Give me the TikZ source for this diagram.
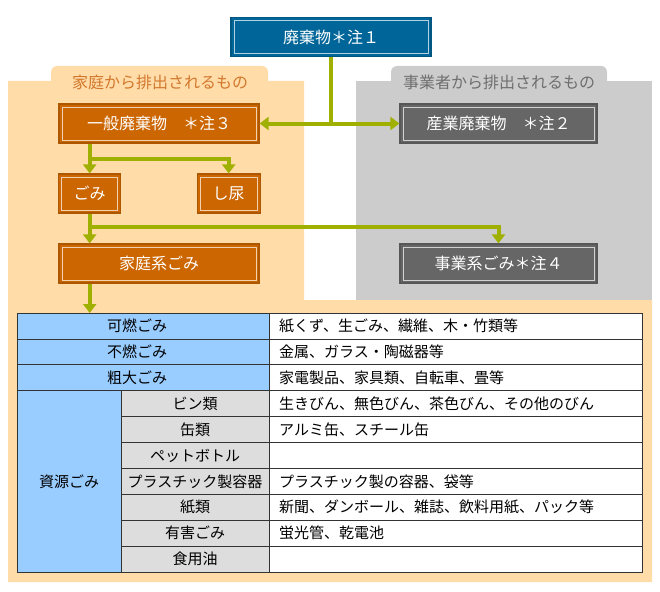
\documentclass[tikz,border=0pt]{standalone}
\usepackage{fontspec}
\setmainfont{Noto Sans CJK JP}
\usetikzlibrary{arrows.meta,calc}

\definecolor{bgorange}{HTML}{FFDCA8}
\definecolor{bggray}{HTML}{CCCCCC}
\definecolor{boxorange}{HTML}{CC6600}
\definecolor{boxblue}{HTML}{006699}
\definecolor{boxgray}{HTML}{666666}
\definecolor{cellblue}{HTML}{99CCFF}
\definecolor{cellgray}{HTML}{DDDDDD}
\definecolor{linkgreen}{HTML}{A0B000}
\definecolor{tabtext}{HTML}{D2782D}
\definecolor{tabgray}{HTML}{6E6E6E}

\begin{document}
\begin{tikzpicture}[x=1pt, y=-1pt,
    wbox/.style={fill=#1, draw=#1!85!black, line width=1.2pt, text=white,
      minimum height=39pt, inner sep=0pt, font=\fontsize{16}{18}\selectfont,
      path picture={\draw[white!70!#1, line width=0.8pt]
        ([shift={(3pt,3pt)}]path picture bounding box.south west) rectangle
        ([shift={(-3pt,-3pt)}]path picture bounding box.north east);}},
    link/.style={draw=linkgreen, line width=4pt},
    tip/.style={-{Triangle[width=13pt,length=9pt]}},
    tline/.style={draw=black!80, line width=0.8pt},
    cell/.style={font=\fontsize{15}{17}\selectfont, inner sep=0pt},
    tablbl/.style={font=\fontsize{16}{18}\selectfont, inner sep=0pt}]
  \useasboundingbox (0,0) rectangle (660,591);

  % backgrounds
  \fill[bgorange, rounded corners=6pt] (51,66) rectangle (268,95);
  \fill[bgorange] (8,81) -- (304,81) -- (304,300) -- (652,300) -- (652,582) -- (8,582) -- cycle;
  \fill[bggray, rounded corners=6pt] (391,66) rectangle (607,95);
  \fill[bggray] (356,81) rectangle (652,300);
  \node[tablbl, text=tabtext] (homelbl) at (160,82) {家庭から排出されるもの};
  \node[tablbl, text=tabgray] (bizlbl) at (499,82) {事業者から排出されるもの};

  % table
  \fill[cellblue] (17,313) rectangle (269,572);
  \fill[cellgray] (121,390.7) rectangle (269,572);
  \fill[white] (269,313) rectangle (642,572);
  \foreach \i in {1,...,3}
    \draw[tline] (17,313+\i*25.9) -- (642,313+\i*25.9);
  \foreach \i in {4,...,9}
    \draw[tline] (121,313+\i*25.9) -- (642,313+\i*25.9);
  \draw[tline] (269,313) -- (269,572);
  \draw[tline] (121,390.7) -- (121,572);
  \draw[tline] (17,313) rectangle (642,572);

  \foreach \a/\b [count=\i] in {可燃ごみ/紙くず、生ごみ、繊維、木・竹類等,
      不燃ごみ/金属、ガラス・陶磁器等,
      粗大ごみ/家電製品、家具類、自転車、畳等} {
    \node[cell] (kind\i) at (137,{313+(\i-0.5)*25.9}) {\a};
    \node[cell, anchor=west] (item\i) at (279,{313+(\i-0.5)*25.9}) {\b};
  }
  \foreach \a/\b [count=\i from 4] in {ビン類/生きびん、無色びん、茶色びん、その他のびん,
      缶類/アルミ缶、スチール缶,
      ペットボトル/,
      プラスチック製容器/プラスチック製の容器、袋等,
      紙類/新聞、ダンボール、雑誌、飲料用紙、パック等,
      有害ごみ/蛍光管、乾電池,
      食用油/} {
    \node[cell] (kind\i) at (195,{313+(\i-0.5)*25.9}) {\a};
    \node[cell, anchor=west] (item\i) at (279,{313+(\i-0.5)*25.9}) {\b};
  }
  \node[cell] (shigen) at (69,481.5) {資源ごみ};

  % boxes
  \node[wbox=boxblue, minimum width=200pt] (waste) at (331,37) {廃棄物＊注１};
  \node[wbox=boxorange, minimum width=200pt] (ippan) at (159,123.5) {一般廃棄物　＊注３};
  \node[wbox=boxgray, minimum width=197pt] (sangyo) at (498.5,123.5) {産業廃棄物　＊注２};
  \node[wbox=boxorange, minimum width=62pt] (gomi) at (89.7,193.5) {ごみ};
  \node[wbox=boxorange, minimum width=63pt] (shinyo) at (228.7,193.5) {し尿};
  \node[wbox=boxorange, minimum width=200pt] (katei) at (159,263.5) {家庭系ごみ};
  \node[wbox=boxgray, minimum width=197pt] (jigyo) at (498.5,263.5) {事業系ごみ＊注４};

  % connectors
  \coordinate (fork1) at (89.7,159);
  \coordinate (fork2) at (89.7,227);
  \coordinate (tbltop) at (89.7,313);
  \draw[link, tip] (waste.south) |- (ippan.east);
  \draw[link, tip] (waste.south) |- (sangyo.west);
  \draw[link, tip] (ippan.south -| gomi.north) -- (gomi.north);
  \draw[link, tip] (fork1) -| (shinyo.north);
  \draw[link, tip] (gomi.south) -- (katei.north -| gomi.south);
  \draw[link, tip] (fork2) -| (jigyo.north);
  \draw[link, tip] (katei.south -| gomi.south) -- (tbltop);
\end{tikzpicture}
\end{document}
